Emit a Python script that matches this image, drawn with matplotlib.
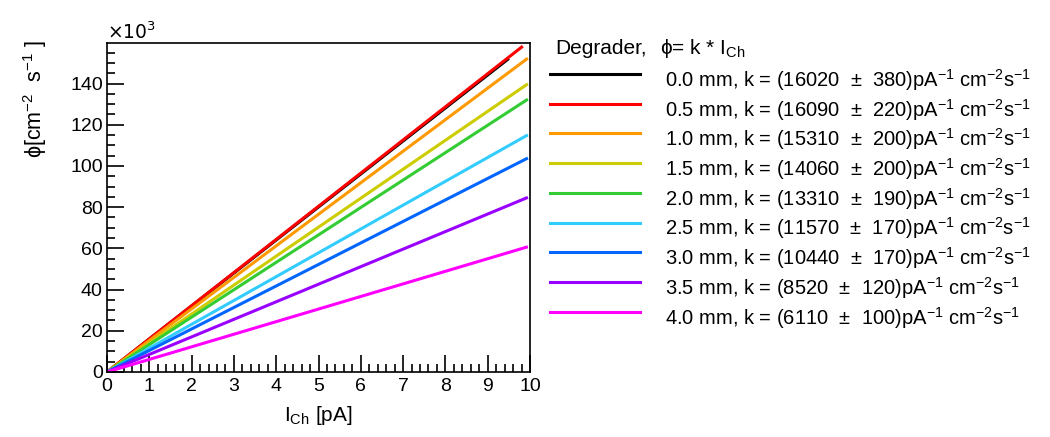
import numpy as np
import matplotlib.pyplot as plt
from matplotlib.lines import Line2D
from matplotlib.ticker import MultipleLocator, FuncFormatter

plt.rcParams['font.family'] = ['Liberation Sans', 'DejaVu Sans']
plt.rcParams['mathtext.default'] = 'regular'

# degrader thickness, fit slope k and its error, end of the fitted range
degrader = ['0.0', '0.5', '1.0', '1.5', '2.0', '2.5', '3.0', '3.5', '4.0']
k_vals = [16020, 16090, 15310, 14060, 13310, 11570, 10440, 8520, 6110]
k_errs = [380, 220, 200, 200, 190, 170, 170, 120, 100]
x_end = [9.5, 9.83, 9.95, 9.95, 9.95, 9.95, 9.95, 9.95, 9.95]
colors = ['#000000', '#ff0000', '#ff9900', '#cccc00', '#33cc33',
          '#33ccff', '#0066ff', '#9900ff', '#ff00ff']

W, H = 1050, 437
fig = plt.figure(figsize=(W / 100, H / 100), dpi=100)
ax = fig.add_axes([107 / W, 1 - 372 / H, (530 - 107) / W, (372 - 43) / H])

for k, xe, c in zip(k_vals, x_end, colors):
    xx = np.array([0.0, xe])
    ax.plot(xx, k * xx, color=c, lw=2.2, solid_capstyle='butt')

ax.set_xlim(0, 10)
ax.set_ylim(0, 159700)
ax.xaxis.set_major_locator(MultipleLocator(1))
ax.xaxis.set_minor_locator(MultipleLocator(0.2))
ax.yaxis.set_major_locator(MultipleLocator(20000))
ax.yaxis.set_minor_locator(MultipleLocator(5000))
ax.yaxis.set_major_formatter(FuncFormatter(lambda v, p: f'{v / 1000:.0f}'))
ax.tick_params(which='both', direction='in', top=False, right=False,
               labelsize=14, width=1.2)
ax.tick_params(which='major', length=12)
ax.tick_params(which='minor', length=6)
ax.tick_params(axis='x', pad=4)
ax.tick_params(axis='y', pad=3)
for s in ax.spines.values():
    s.set_linewidth(1.2)

ax.text(0, 1.0, '×10$^{3}$', transform=ax.transAxes, ha='left',
        va='bottom', fontsize=13.5, family=['DejaVu Sans'])

fig.text(35 / W, 1 - 40 / H, r'$\phi$[cm$^{-2}$  s$^{-1}$ ]', rotation=90,
         ha='center', va='top', fontsize=15.5)
fig.text(318 / W, 1 - 421 / H, r'I$_{Ch}$ [pA]', ha='center',
         va='baseline', fontsize=15)

# legend
fig.text(555 / W, 1 - 48 / H, 'Degrader,', ha='left', va='center', fontsize=15)
fig.text(660 / W, 1 - 48 / H, r'$\phi$= k * I$_{Ch}$', ha='left',
         va='center', fontsize=15)
y0, dy = 74, 29.7
for i, (d, k, e, c) in enumerate(zip(degrader, k_vals, k_errs, colors)):
    yy = 1 - (y0 + i * dy) / H
    fig.add_artist(Line2D([550 / W, 640 / W], [yy, yy], color=c, lw=2.2,
                          transform=fig.transFigure))
    fig.text(665 / W, yy - 6 / H,
             f'{d} mm, k = ({k}  $\\pm$  {e})pA$^{{-1}}$ cm$^{{-2}}$s$^{{-1}}$',
             ha='left', va='center', fontsize=14.5)

fig.savefig('out.png', dpi=100)
